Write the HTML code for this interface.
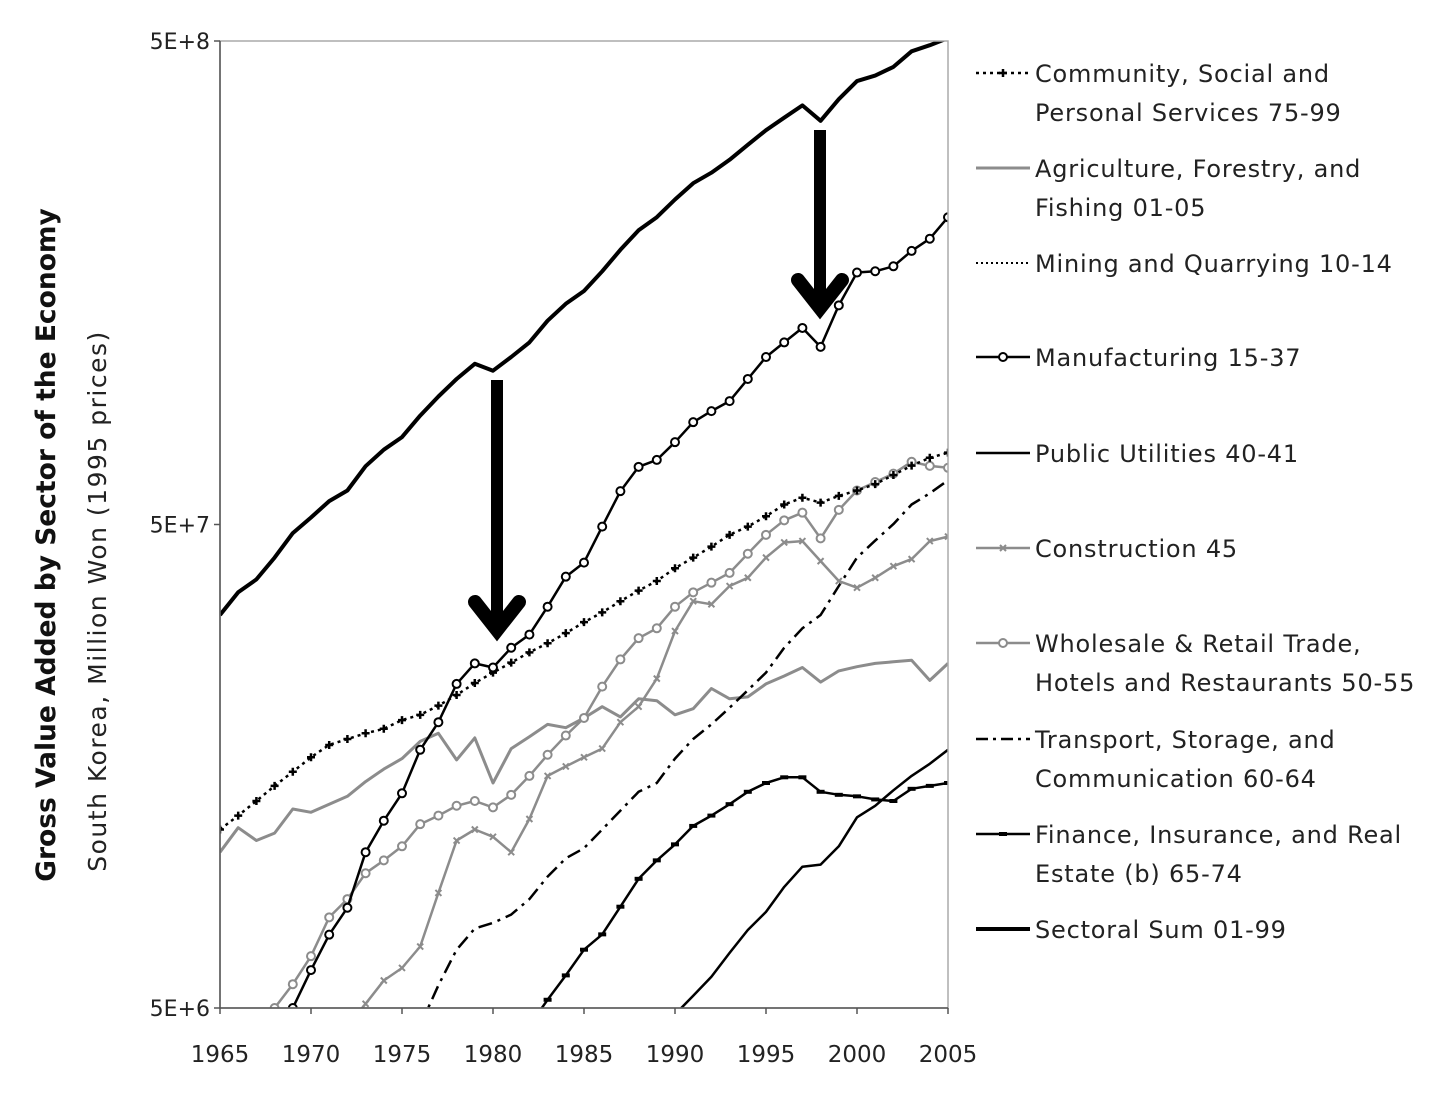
<!DOCTYPE html>
<html><head><meta charset="utf-8"><style>
body{margin:0;background:#fff;font-family:"Liberation Sans",sans-serif;}
svg text{font-family:"DejaVu Sans","Liberation Sans",sans-serif;}
</style></head><body>
<svg id="c" width="1449" height="1092" xmlns="http://www.w3.org/2000/svg">
<defs><clipPath id="pc"><rect x="220" y="41" width="728" height="967"/></clipPath></defs>
<g id="plot" clip-path="url(#pc)"></g>
<g id="axes"></g>
<g id="legend"></g>
</svg>
<script>
const years=[];for(let y=1965;y<=2005;y++)years.push(y);
const yTicks=[5,50,500];
const yTickLabels=["5E+6","5E+7","5E+8"];
const xTicks=[1965,1970,1975,1980,1985,1990,1995,2000,2005];
// values in millions (x1e6 won)
const sectoralSum=[32.5,36.2,38.5,42.7,48,51.7,55.9,58.8,66,71.4,75.8,84,92,100,107.5,104,111,119,132,143,152,167,185,203,216,235,254,267,284,305,327,347,368,342,379,413,424,442,476,490,507];
const manufacturingYears=[1969,1970,1971,1972,1973,1974,1975,1976,1977,1978,1979,1980,1981,1982,1983,1984,1985,1986,1987,1988,1989,1990,1991,1992,1993,1994,1995,1996,1997,1998,1999,2000,2001,2002,2003,2004,2005];
const manufacturing=[5.0,5.99,7.09,8.06,10.5,12.2,13.9,17.1,19.5,23.4,25.8,25.3,27.8,29.6,33.8,39,41.7,49.5,58.6,65.8,68,74,81.4,85.8,90,100,111,119,127.5,116.5,142,166,167,171,184,195,216];
const community=[11.7,12.5,13.4,14.4,15.4,16.5,17.5,18,18.5,18.9,19.7,20.2,21.1,22.2,23.5,24.7,25.9,27.2,28.4,29.8,31.4,32.9,34.7,36.5,38.2,40.6,42.7,45,47.6,49.5,52,55,56.8,55.5,57.3,58.8,60.6,63.3,66.2,68.7,70.4];
const agriculture=[10.5,11.8,11.1,11.5,12.9,12.7,13.2,13.7,14.7,15.6,16.4,17.8,18.5,16.3,18.1,14.6,17.2,18.2,19.3,19,19.9,21,20,21.8,21.6,20.2,20.8,22.9,21.8,22,23.4,24.3,25.3,23.6,24.9,25.4,25.8,26,26.2,23.8,25.8];
const wholesaleYears=[1968,1969,1970,1971,1972,1973,1974,1975,1976,1977,1978,1979,1980,1981,1982,1983,1984,1985,1986,1987,1988,1989,1990,1991,1992,1993,1994,1995,1996,1997,1998,1999,2000,2001,2002,2003,2004,2005];
const wholesale=[5.0,5.6,6.4,7.7,8.4,9.5,10.1,10.8,12,12.5,13.1,13.4,13,13.8,15.1,16.7,18.3,19.9,23.1,26.3,29.1,30.5,33.8,36.2,37.9,39.7,43.5,47.6,51,52.9,46.8,53.6,58.8,61.2,63.7,67.4,66.1,65.5];
const constructionYears=[1972,1973,1974,1975,1976,1977,1978,1979,1980,1981,1982,1983,1984,1985,1986,1987,1988,1989,1990,1991,1992,1993,1994,1995,1996,1997,1998,1999,2000,2001,2002,2003,2004,2005];
const construction=[4.6,5.1,5.7,6.05,6.7,8.65,11.1,11.7,11.3,10.5,12.3,15.1,15.8,16.5,17.2,19.5,21,24,30.1,34.7,34.2,37.3,38.8,42.7,45.9,46.2,42,38.2,37,38.8,41,42.4,46.2,47.2];
const transportYears=[1976,1977,1978,1979,1980,1981,1982,1983,1984,1985,1986,1987,1988,1989,1990,1991,1992,1993,1994,1995,1996,1997,1998,1999,2000,2001,2002,2003,2004,2005];
const transport=[4.6,5.57,6.6,7.3,7.5,7.8,8.4,9.35,10.2,10.7,11.7,12.8,14,14.6,16.4,18,19.3,20.9,22.7,24.7,27.8,30.5,32.5,37.3,42.7,46.3,50.1,55,58,61.7];
const financeYears=[1982,1983,1984,1985,1986,1987,1988,1989,1990,1991,1992,1993,1994,1995,1996,1997,1998,1999,2000,2001,2002,2003,2004,2005];
const finance=[4.6,5.2,5.84,6.6,7.1,8.1,9.25,10.1,10.9,11.9,12.5,13.2,14,14.6,15,15,14,13.8,13.7,13.5,13.4,14.2,14.4,14.6];
const utilitiesYears=[1990,1991,1992,1993,1994,1995,1996,1997,1998,1999,2000,2001,2002,2003,2004,2005];
const utilities=[4.85,5.3,5.8,6.5,7.25,7.9,8.9,9.8,9.9,10.8,12.4,13.1,14.1,15.1,16,17.1];

const X0=220,X1=948,Y0=1008,Y1=41;
const xs=y=>X0+(y-1965)/(2005-1965)*(X1-X0);
const ys=v=>Y0-(Math.log10(v)-Math.log10(5))/2*(Y0-Y1);
const NS="http://www.w3.org/2000/svg";
function mk(t,a,p){const e=document.createElementNS(NS,t);for(const k in a)e.setAttribute(k,a[k]);p.appendChild(e);return e;}
const plot=document.getElementById('plot'),axes=document.getElementById('axes'),leg=document.getElementById('legend');

function series(name,yrs,vals,stroke,w,dash,marker){
  const g=mk('g',{},plot);
  
  
  const pts=yrs.map((y,i)=>xs(y).toFixed(1)+','+ys(vals[i]).toFixed(1)).join(' ');
  const l=mk('polyline',{points:pts,fill:'none',stroke:stroke,'stroke-width':w,'stroke-dasharray':dash||'none','stroke-linejoin':'round'},g);
  
  
  yrs.forEach((y,i)=>{const cx=xs(y),cy=ys(vals[i]);drawMarker(g,marker,cx,cy,stroke,name);});
}
function drawMarker(g,marker,cx,cy,stroke,name){
  let m=null;
  if(marker==='circle')m=mk('circle',{cx:cx,cy:cy,r:4,fill:'#fff',stroke:stroke,'stroke-width':2},g);
  else if(marker==='plus')m=mk('path',{d:`M${cx-4},${cy}H${cx+4}M${cx},${cy-4}V${cy+4}`,stroke:stroke,'stroke-width':2.5},g);
  else if(marker==='x')m=mk('path',{d:`M${cx-3},${cy-3}L${cx+3},${cy+3}M${cx+3},${cy-3}L${cx-3},${cy+3}`,stroke:stroke,'stroke-width':2},g);
  else if(marker==='dash')m=mk('path',{d:`M${cx-4},${cy}H${cx+4}`,stroke:stroke,'stroke-width':4},g);
  if(m){}
}
series('agriculture',years,agriculture,'#8c8c8c',3,null,null);
series('utilities',utilitiesYears,utilities,'#000',2.5,null,null);
series('transport',transportYears,transport,'#000',2.5,'14,6,3,6',null);
series('finance',financeYears,finance,'#000',2.5,null,'dash');
series('construction',constructionYears,construction,'#8c8c8c',2.5,null,'x');
series('wholesale',wholesaleYears,wholesale,'#8c8c8c',2.5,null,'circle');
series('community',years,community,'#000',2.5,'3,4',"plus");
series('manufacturing',manufacturingYears,manufacturing,'#000',2.5,null,'circle');
series('sectoral-sum',years,sectoralSum,'#000',4,null,null);

function arrow(name,x,yTop,yTip){
  const g=mk('g',{},plot);
  
  
  mk('line',{x1:x,y1:yTop,x2:x,y2:yTip-8,stroke:'#000','stroke-width':12},g);
  mk('polyline',{points:`${x-22},${yTip-38} ${x},${yTip-10} ${x+22},${yTip-38}`,fill:'none',stroke:'#000','stroke-width':14,'stroke-linecap':'round'},g);
}
arrow('arrow-1980',497,380,640);
arrow('arrow-1998',820,130,318);

const fr=mk('rect',{x:X0,y:Y1,width:X1-X0,height:Y0-Y1,fill:'none',stroke:'#aaa','stroke-width':1.5},axes);


mk('line',{x1:X0,y1:Y1,x2:X0,y2:Y0,stroke:'#555','stroke-width':1.5},axes);
mk('line',{x1:X0,y1:Y0,x2:X1,y2:Y0,stroke:'#555','stroke-width':1.5},axes);
yTicks.forEach((v,i)=>{
  mk('line',{x1:X0-6,y1:ys(v),x2:X0,y2:ys(v),stroke:'#555','stroke-width':1.5},axes);
  const t=mk('text',{x:X0-10,y:ys(v)+8,'text-anchor':'end','font-size':22,fill:'#222'},axes);
  t.textContent=yTickLabels[i];
  
  
});
xTicks.forEach(y=>{
  mk('line',{x1:xs(y),y1:Y0,x2:xs(y),y2:Y0+6,stroke:'#555','stroke-width':1.5},axes);
  const t=mk('text',{x:xs(y),y:1062,'text-anchor':'middle','font-size':23,fill:'#222'},axes);
  t.textContent=y;
  
  
});
const t1=mk('text',{x:0,y:0,transform:'translate(55,545) rotate(-90)','text-anchor':'middle','font-size':26.5,'font-weight':'bold',fill:'#111'},axes);
t1.textContent='Gross Value Added by Sector of the Economy';


const t2=mk('text',{x:0,y:0,transform:'translate(106,601) rotate(-90)','text-anchor':'middle','font-size':25,'letter-spacing':1.5,fill:'#222'},axes);
t2.textContent='South Korea,  Million Won (1995 prices)';



const legendLabels=[["Community, Social and","Personal Services 75-99"],["Agriculture, Forestry, and","Fishing 01-05"],["Mining and Quarrying 10-14"],["Manufacturing 15-37"],["Public Utilities 40-41"],["Construction 45"],["Wholesale & Retail Trade,","Hotels and Restaurants 50-55"],["Transport, Storage, and","Communication 60-64"],["Finance, Insurance, and Real","Estate (b) 65-74"],["Sectoral Sum 01-99"]];
const legendY=[73,168,263,357,453,548,643,739,834,929];
const legStyle=[['#000',2.5,'3,4','plus'],['#8c8c8c',3,null,null],['#000',2,'2,3',null],['#000',2.5,null,'circle'],['#000',2.5,null,null],['#8c8c8c',2.5,null,'x'],['#8c8c8c',2.5,null,'circle'],['#000',2.5,'12,5,3,5',null],['#000',2.5,null,'dash'],['#000',4,null,null]];
legendLabels.forEach((lines,i)=>{
  const g=mk('g',{},leg);
  
  
  const s=legStyle[i],y=legendY[i];
  mk('line',{x1:976,y1:y,x2:1030,y2:y,stroke:s[0],'stroke-width':s[1],'stroke-dasharray':s[2]||'none'},g);
  drawMarker(g,s[3],1003,y,s[0],'legend');
  lines.forEach((ln,j)=>{
    const t=mk('text',{x:1035,y:y+9+j*39,'font-size':24,'letter-spacing':0.8,fill:'#222'},g);
    t.textContent=ln;
  });
});
</script>
</body></html>
